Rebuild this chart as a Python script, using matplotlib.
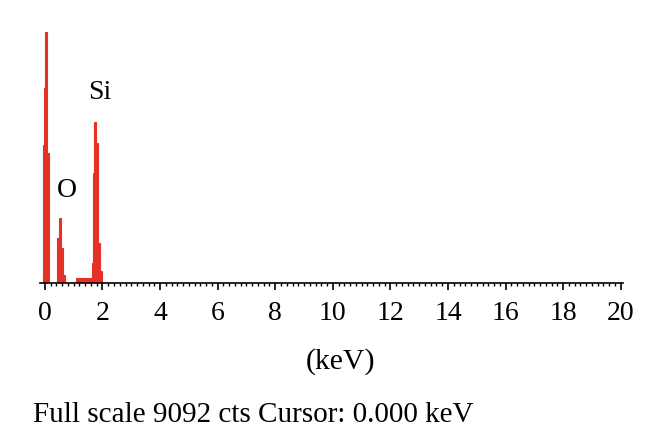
import numpy as np
import matplotlib.pyplot as plt

plt.rcParams['font.family'] = ['Liberation Serif', 'DejaVu Serif']

# EDS spectrum, channel edges (keV) and counts
edges = [-0.08, -0.02, 0.01, 0.09, 0.15, 0.43, 0.49, 0.56, 0.63, 0.70,
         1.08, 1.62, 1.67, 1.72, 1.79, 1.84, 1.91, 1.98]
counts = [4860, 6870, 8850, 4580, 0, 1590, 2290, 1230, 280, 0,
          180, 700, 3880, 5670, 4930, 1410, 420]

peak_names = ['O', 'Si']
peak_x = [0.76, 1.91]
peak_y = [3280, 6730]

full_scale = 9092
xticks = np.arange(0, 21, 2)

fig = plt.figure(figsize=(6.6, 4.41), dpi=100)
ax = fig.add_axes([0.0606, 0.358, 0.883, 0.585])

red = '#e53228'
ax.stairs(counts, edges, fill=True, facecolor=red, edgecolor=red, linewidth=0.8)

for name, x, y in zip(peak_names, peak_x, peak_y):
    ax.text(x, y, name, fontsize=20, ha='center', va='center')

ax.set_xlim(-0.17, 20.07)
ax.set_ylim(0, full_scale)
for s in ['top', 'right', 'left']:
    ax.spines[s].set_visible(False)
ax.spines['bottom'].set_linewidth(1.2)
ax.spines['bottom'].set_zorder(3)
ax.set_yticks([])
ax.set_xticks(xticks)
ax.set_xticks(np.arange(0, 20.01, 0.2), minor=True)
ax.tick_params(axis='x', which='major', length=5, width=1.2, labelsize=20, pad=8)
ax.tick_params(axis='x', which='minor', length=2.5, width=1)

fig.text(341 / 660, 1 - 362 / 441, '(keV)', fontsize=21.5, ha='center', va='center')
fig.text(33 / 660, 1 - 415 / 441, 'Full scale 9092 cts Cursor: 0.000 keV',
         fontsize=21, ha='left', va='center')

fig.savefig('out.png', dpi=100)
